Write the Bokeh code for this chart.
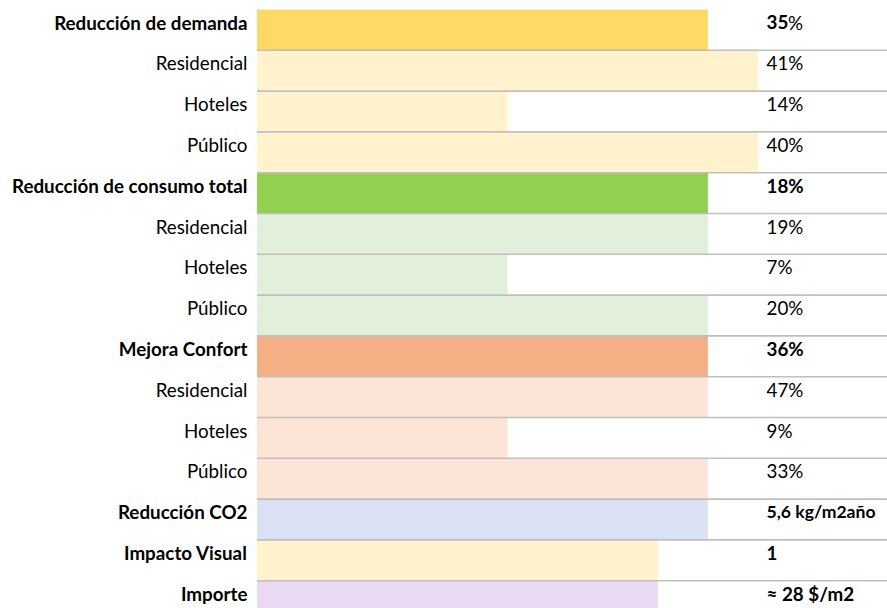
from bokeh.plotting import figure
from bokeh.models import Range1d, ColumnDataSource
from bokeh.core.properties import value
from bokeh.embed import file_html
from bokeh.resources import INLINE

# ---- data ----
row_labels = ["Reducción de demanda", "Residencial", "Hoteles", "Público",
              "Reducción de consumo total", "Residencial", "Hoteles", "Público",
              "Mejora Confort", "Residencial", "Hoteles", "Público",
              "Reducción CO2", "Impacto Visual", "Importe"]
is_header = [True, False, False, False,
             True, False, False, False,
             True, False, False, False,
             True, True, True]
bar_scores = [9, 10, 5, 10,
              9, 9, 5, 9,
              9, 9, 5, 9,
              9, 8, 8]
value_labels = ["35%", "41%", "14%", "40%",
                "18%", "19%", "7%", "20%",
                "36%", "47%", "9%", "33%",
                "5,6 kg/m2año", "1", "≈ 28 $/m2"]
bar_colors = ["#FFD966", "#FFF2CC", "#FFF2CC", "#FFF2CC",
              "#92D050", "#E2EFDA", "#E2EFDA", "#E2EFDA",
              "#F4B084", "#FCE4D6", "#FCE4D6", "#FCE4D6",
              "#D9E1F2", "#FFF2CC", "#EBD9F3"]

# ---- layout constants (pixels -> units) ----
W, H = 887, 608
X0_PX = 256.5          # bar origin within figure
UNIT = 50.1            # px per score unit
ROW = 40.8             # px per row
TOP_PX = 9.0           # top edge of first row
FONT = "Lato"
FS = "18.8px"

def xu(px):
    return (px - X0_PX) / UNIT

n = len(row_labels)
top = -0.5 - TOP_PX / ROW
bottom = top + H / ROW

p = figure(width=W, height=H, output_backend="svg", toolbar_location=None,
           x_range=Range1d(xu(0), xu(W)), y_range=Range1d(bottom, top),
           min_border=0, min_border_left=0, min_border_right=0,
           min_border_top=0, min_border_bottom=0)
p.axis.visible = False
p.grid.visible = False
p.outline_line_color = None
p.background_fill_color = "white"
p.border_fill_color = "white"

ys = list(range(n))
src = ColumnDataSource(dict(y=ys, right=bar_scores, color=bar_colors))
p.hbar(y="y", left=0, right="right", height=1.0, fill_color="color",
       line_color=None, source=src)

# separators
sep_y = [i + 0.5 for i in range(n - 1)]
p.segment(x0=[0] * len(sep_y), x1=[xu(W)] * len(sep_y), y0=sep_y, y1=sep_y,
          line_color="#BFBFBF", line_width=1.6)

base_off = 12.6 / ROW - 0.5   # baseline offset inside row

def text_rows(idx, xs, texts, style, align, size=FS):
    p.text(x=xs, y=[i + base_off for i in idx], text=texts,
           text_font=value(FONT), text_font_size=size, text_font_style=style,
           text_align=align, text_baseline="alphabetic", text_color="#000000")

hdr = [i for i in range(n) if is_header[i]]
sub = [i for i in range(n) if not is_header[i]]

text_rows(hdr, [xu(247)] * len(hdr), [row_labels[i] for i in hdr], "bold", "right")
text_rows(sub, [xu(247)] * len(sub), [row_labels[i] for i in sub], "normal", "right")

# values: first header shows the number bold and the % sign regular
vx = xu(766)
first = value_labels[0]
text_rows([0], [vx], [first[:-1]], "bold", "left")
text_rows([0], [xu(787.5)], [first[-1]], "normal", "left")
long_vals = [i for i in hdr if i != 0 and len(value_labels[i]) > 10]
hdr_rest = [i for i in hdr if i != 0 and i not in long_vals]
text_rows(hdr_rest, [vx] * len(hdr_rest), [value_labels[i] for i in hdr_rest], "bold", "left")
text_rows(long_vals, [vx] * len(long_vals), [value_labels[i] for i in long_vals], "bold", "left", "17.6px")
text_rows(sub, [vx] * len(sub), [value_labels[i] for i in sub], "normal", "left")

open("out.html", "w").write(file_html(p, INLINE))
